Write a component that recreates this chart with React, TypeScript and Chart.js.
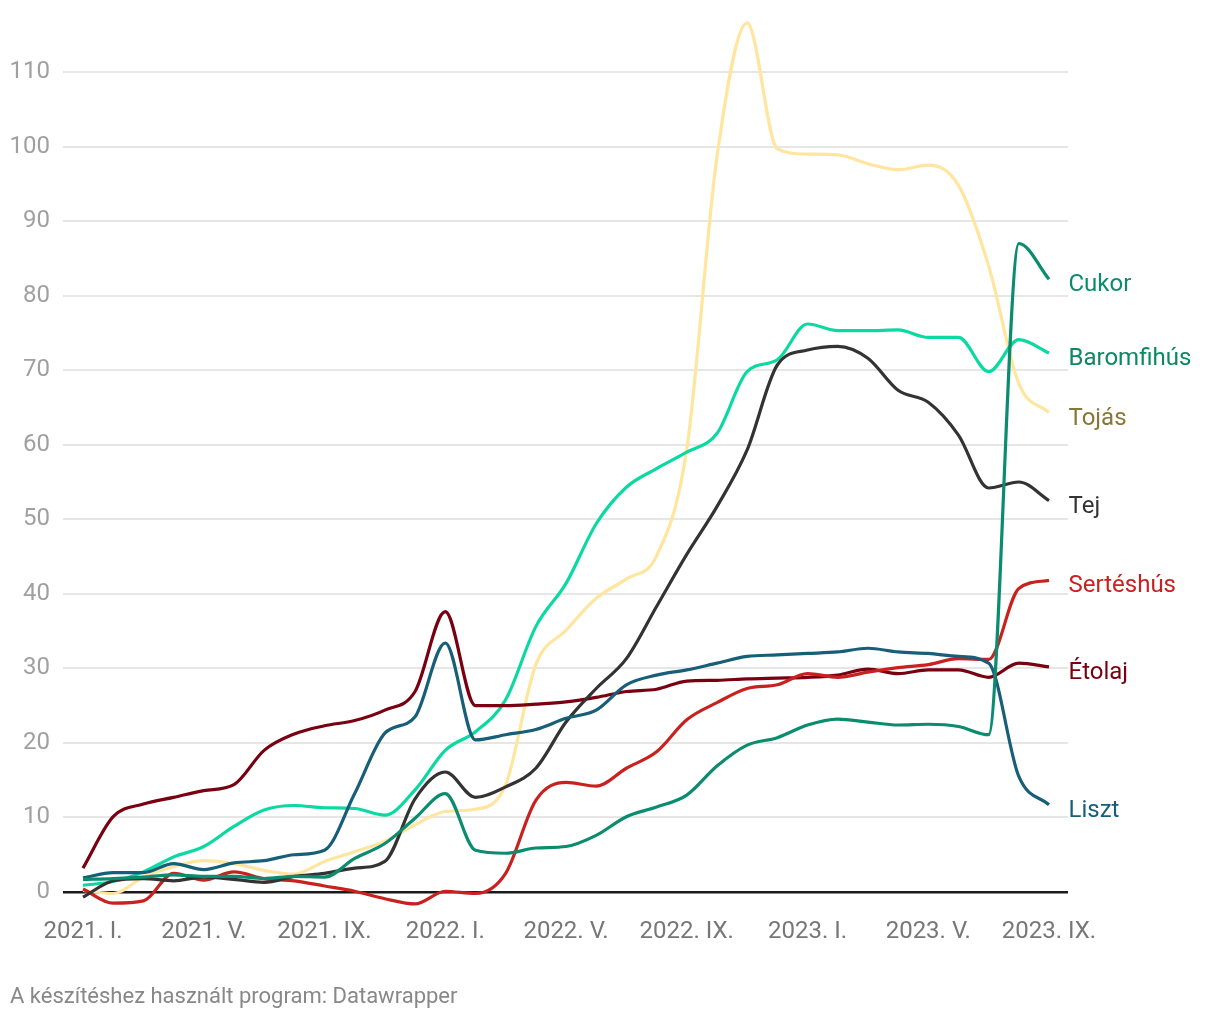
import React, { useEffect, useRef } from "react";
import { Chart, registerables } from "chart.js";

Chart.register(...registerables);

// Months Jan 2021 – Sep 2023
const categories = [
  "2021. I.", "2021. II.", "2021. III.", "2021. IV.", "2021. V.", "2021. VI.",
  "2021. VII.", "2021. VIII.", "2021. IX.", "2021. X.", "2021. XI.", "2021. XII.",
  "2022. I.", "2022. II.", "2022. III.", "2022. IV.", "2022. V.", "2022. VI.",
  "2022. VII.", "2022. VIII.", "2022. IX.", "2022. X.", "2022. XI.", "2022. XII.",
  "2023. I.", "2023. II.", "2023. III.", "2023. IV.", "2023. V.", "2023. VI.",
  "2023. VII.", "2023. VIII.", "2023. IX.",
];

const xTickIndices = [0, 4, 8, 12, 16, 20, 24, 28, 32];
const yTickValues = [0, 10, 20, 30, 40, 50, 60, 70, 80, 90, 100, 110];

const cukor = [1.7, 1.8, 2.0, 2.3, 2.1, 2.1, 1.8, 2.1, 2.0, 4.5, 6.5, 9.9, 13.2, 5.6, 5.2, 5.9, 6.1, 7.6, 10.1, 11.4, 13.0, 16.9, 19.7, 20.7, 22.4, 23.2, 22.8, 22.4, 22.5, 22.2, 21.1, 87.0, 82.2];
const baromfihus = [0.9, 1.4, 2.7, 4.7, 6.1, 8.8, 11.0, 11.6, 11.3, 11.2, 10.3, 13.7, 19.0, 21.5, 25.8, 35.6, 41.4, 49.4, 54.3, 56.8, 59.0, 61.5, 69.8, 71.4, 76.2, 75.3, 75.3, 75.4, 74.4, 74.4, 69.8, 74.1, 72.3];
const tojas = [0.2, -0.2, 2.0, 3.4, 4.2, 3.8, 2.9, 2.4, 4.1, 5.4, 6.8, 9.0, 10.8, 11.1, 14.4, 30.5, 35.1, 39.4, 42.0, 45.1, 59.4, 98.6, 116.6, 99.7, 99.0, 98.9, 97.7, 96.9, 97.5, 94.8, 84.0, 68.2, 64.3];
const tej = [-0.7, 1.5, 1.8, 1.5, 2.0, 1.7, 1.3, 2.1, 2.5, 3.2, 4.1, 12.5, 16.1, 12.7, 14.1, 16.6, 22.8, 27.3, 31.3, 38.3, 45.3, 51.7, 59.3, 70.7, 72.7, 73.2, 71.6, 67.3, 65.7, 61.3, 54.2, 55.0, 52.5];
const serteshus = [0.4, -1.5, -1.2, 2.5, 1.6, 2.7, 1.8, 1.5, 0.8, 0.1, -0.9, -1.6, 0.1, -0.2, 2.5, 12.3, 14.7, 14.2, 16.6, 18.8, 23.1, 25.4, 27.3, 27.8, 29.3, 28.8, 29.5, 30.1, 30.5, 31.3, 31.2, 40.7, 41.8];
const etolaj = [3.2, 10.1, 11.8, 12.7, 13.6, 14.4, 19.0, 21.2, 22.3, 23.0, 24.4, 26.9, 37.6, 25.0, 25.0, 25.2, 25.5, 26.1, 26.9, 27.2, 28.3, 28.4, 28.6, 28.7, 28.8, 29.1, 29.9, 29.3, 29.8, 29.8, 28.8, 30.7, 30.2];
const liszt = [1.9, 2.6, 2.6, 3.8, 3.0, 3.9, 4.2, 5.0, 5.6, 13.2, 21.3, 23.5, 33.4, 20.4, 21.1, 21.8, 23.3, 24.4, 27.8, 29.1, 29.8, 30.7, 31.6, 31.8, 32.0, 32.2, 32.7, 32.2, 32.0, 31.6, 30.7, 15.5, 11.7];

// Drawn top-most first (Chart.js draws dataset 0 last)
const seriesNames = ["Cukor", "Liszt", "Tej", "Sertéshús", "Étolaj", "Baromfihús", "Tojás"];
const seriesValues = [cukor, liszt, tej, serteshus, etolaj, baromfihus, tojas];
const lineColors = ["#0b8c6f", "#175e78", "#333333", "#c8211f", "#780010", "#0bd9a2", "#ffe59e"];
const labelColors = ["#0b8c6f", "#175e78", "#333333", "#c8211f", "#780010", "#0a8a60", "#8a7636"];

const FONT = "Roboto, 'Noto Sans', sans-serif";

export default function App() {
  const canvasRef = useRef<HTMLCanvasElement | null>(null);

  useEffect(() => {
    const canvas = canvasRef.current;
    if (!canvas) return;

    const endLabels = {
      id: "endLabels",
      afterDatasetsDraw(chart: any) {
        const ctx = chart.ctx;
        ctx.save();
        ctx.font = `24px ${FONT}`;
        ctx.textAlign = "left";
        ctx.textBaseline = "alphabetic";
        chart.data.datasets.forEach((ds: any, i: number) => {
          const meta = chart.getDatasetMeta(i);
          const pt = meta.data[meta.data.length - 1];
          if (!pt) return;
          ctx.fillStyle = labelColors[i];
          ctx.fillText(ds.label, chart.chartArea.right + 0.5, pt.y + 12);
        });
        ctx.restore();
      },
    };

    const chart = new Chart(canvas, {
      type: "line",
      data: {
        datasets: seriesNames.map((name, i) => ({
          label: name,
          data: seriesValues[i].map((v, k) => ({ x: k, y: v })),
          borderColor: lineColors[i],
          backgroundColor: lineColors[i],
          borderWidth: 3.2,
          pointRadius: 0,
          pointHoverRadius: 0,
          cubicInterpolationMode: "monotone" as const,
          fill: false,
          clip: false as any,
        })),
      },
      options: {
        animation: false,
        responsive: false,
        maintainAspectRatio: false,
        events: [],
        layout: { padding: { left: 0, right: 152, top: 12.4, bottom: 0 } },
        plugins: {
          legend: { display: false },
          tooltip: { enabled: false },
          title: { display: false },
        },
        scales: {
          x: {
            type: "linear",
            min: -0.6625,
            max: 32.629,
            afterBuildTicks: (scale: any) => {
              scale.ticks = xTickIndices.map((v) => ({ value: v }));
            },
            afterFit: (scale: any) => {
              scale.height = 1020 - 906.9;
              scale.paddingLeft = 0;
              scale.paddingRight = 0;
              scale.paddingTop = 0;
              scale.paddingBottom = 0;
            },
            grid: { display: false, drawTicks: false },
            border: { display: false },
            ticks: {
              autoSkip: false,
              maxRotation: 0,
              minRotation: 0,
              padding: 11,
              color: "#777777",
              font: { family: FONT, size: 24 },
              callback: (v: any) => categories[Math.round(Number(v))] ?? "",
            },
          },
          y: {
            type: "linear",
            min: -2,
            max: 118,
            afterBuildTicks: (scale: any) => {
              scale.ticks = yTickValues.map((v) => ({ value: v }));
            },
            afterFit: (scale: any) => {
              scale.width = 63;
              scale.paddingTop = 0;
              scale.paddingBottom = 0;
              scale.paddingLeft = 0;
              scale.paddingRight = 0;
            },
            grid: {
              drawTicks: false,
              color: (c: any) => (c.tick && c.tick.value === 0 ? "#1a1a1a" : "#e6e6e6"),
              lineWidth: (c: any) => (c.tick && c.tick.value === 0 ? 2.5 : 2),
            },
            border: { display: false },
            ticks: {
              padding: 13,
              color: "#a0a0a0",
              font: { family: FONT, size: 24 },
              callback: (v: any) => String(v),
            },
          },
        },
      },
      plugins: [endLabels],
    });

    return () => chart.destroy();
  }, []);

  return (
    <div style={{ position: "fixed", left: 0, top: 0, width: 1220, height: 1020, background: "#ffffff" }}>
      <canvas ref={canvasRef} width={1220} height={1020} style={{ display: "block", width: 1220, height: 1020 }} />
      <div
        style={{
          position: "absolute",
          left: 10,
          top: 983,
          fontFamily: FONT,
          fontSize: 22,
          color: "#888888",
          whiteSpace: "nowrap",
        }}
      >
        A készítéshez használt program: Datawrapper
      </div>
    </div>
  );
}
